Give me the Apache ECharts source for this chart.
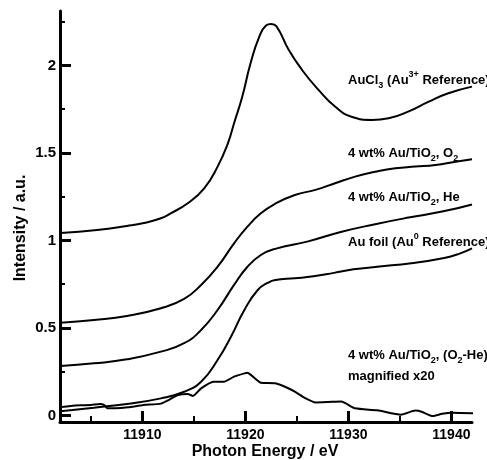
<!DOCTYPE html>
<html><head><meta charset="utf-8">
<script src="https://cdn.jsdelivr.net/npm/echarts@6/dist/echarts.min.js"></script>
<style>html,body{margin:0;padding:0;background:#fff}#c{width:487px;height:460px}</style>
</head><body><div id="c"></div>
<script>
// Tick values
const xMajorTicks = [11910, 11920, 11930, 11940];
const xMinorTicks = [11905, 11915, 11925, 11935];
const yMajorTicks = [0, 0.5, 1, 1.5, 2];
const yMinorTicks = [0.25, 0.75, 1.25, 1.75, 2.25];

// AuCl3 (Au3+ reference)
const aucl3E = [11902.05, 11905.6, 11908.5, 11910.15, 11911.8, 11912.75, 11914.4, 11916.0, 11917.3, 11918.3, 11918.9, 11919.7, 11920.5, 11921.35, 11922.0, 11922.5, 11923.0, 11924.2, 11925.5, 11927.1, 11928.7, 11930.3, 11932.3, 11933.9, 11935.8, 11937.8, 11939.7, 11942.0];
const aucl3I = [1.043, 1.06, 1.083, 1.10, 1.127, 1.155, 1.213, 1.298, 1.422, 1.555, 1.67, 1.822, 2.013, 2.165, 2.228, 2.237, 2.225, 2.089, 1.974, 1.86, 1.765, 1.707, 1.689, 1.698, 1.736, 1.793, 1.841, 1.879];

// 4 wt% Au/TiO2, O2
const o2E = [11902.05, 11905.3, 11908.5, 11911.8, 11914.05, 11915.7, 11917.3, 11918.9, 11920.2, 11921.5, 11922.9, 11924.8, 11926.8, 11928.7, 11930.65, 11932.6, 11934.55, 11936.5, 11938.45, 11940.4, 11942.0];
const o2I = [0.530, 0.546, 0.569, 0.613, 0.666, 0.746, 0.850, 0.984, 1.079, 1.155, 1.21, 1.26, 1.289, 1.327, 1.365, 1.393, 1.413, 1.422, 1.431, 1.45, 1.464];

// 4 wt% Au/TiO2, He
const heE = [11902.05, 11905.3, 11908.5, 11911.8, 11914.05, 11915.7, 11917.3, 11918.9, 11920.2, 11921.5, 11922.9, 11926.1, 11929.35, 11932.6, 11935.85, 11939.1, 11942.0];
const heI = [0.283, 0.298, 0.321, 0.365, 0.413, 0.489, 0.603, 0.746, 0.850, 0.917, 0.952, 0.995, 1.05, 1.093, 1.131, 1.165, 1.206];

// Au foil (Au0 reference)
const foilE = [11902.05, 11905.3, 11908.5, 11911.8, 11914.05, 11915.7, 11917.3, 11918.6, 11919.9, 11921.2, 11922.2, 11922.9, 11924.8, 11926.6, 11928.6, 11930.5, 11932.8, 11936.1, 11939.3, 11940.8, 11942.0];
const foilI = [0.025, 0.045, 0.066, 0.098, 0.136, 0.193, 0.317, 0.45, 0.603, 0.717, 0.759, 0.774, 0.784, 0.795, 0.815, 0.835, 0.85, 0.87, 0.9, 0.925, 0.955];

// 4 wt% Au/TiO2, (O2-He) magnified x20
const diffE = [11902.05, 11903.0, 11904.0, 11905.0, 11905.9, 11906.3, 11906.6, 11907.4, 11908.6, 11910.1, 11911.8, 11912.6, 11913.45, 11914.4, 11914.9, 11915.7, 11916.9, 11917.9, 11918.9, 11919.9, 11920.2, 11920.55, 11921.5, 11922.9, 11924.0, 11924.8, 11925.8, 11926.8, 11928.0, 11929.3, 11930.65, 11932.8, 11935.1, 11936.5, 11937.1, 11938.2, 11939.1, 11940.1, 11942.1];
const diffI = [0.048, 0.054, 0.058, 0.06, 0.066, 0.06, 0.042, 0.042, 0.047, 0.06, 0.068, 0.09, 0.117, 0.123, 0.112, 0.155, 0.193, 0.193, 0.222, 0.241, 0.245, 0.231, 0.187, 0.184, 0.16, 0.136, 0.1, 0.075, 0.077, 0.08, 0.041, 0.03, 0.005, 0.028, 0.022, -0.003, 0.01, 0.016, 0.013];

const FONT = '"Liberation Sans", Arial, Helvetica, sans-serif';
const zip = (a, b) => a.map((v, i) => [v, b[i]]);

const chart = echarts.init(document.getElementById('c'), null, {renderer: 'canvas'});

function lineSeries(E, I, smooth) {
  return {
    type: 'line', data: zip(E, I), showSymbol: false, symbol: 'none',
    smooth: smooth,
    lineStyle: {color: '#000', width: 2}, itemStyle: {color: '#000'},
    emphasis: {disabled: true}, silent: true
  };
}

const rich = {
  sub: {fontSize: 9, fontWeight: 'bold', fontFamily: FONT, verticalAlign: 'bottom', fill: '#000'},
  sup: {fontSize: 9, fontWeight: 'bold', fontFamily: FONT, verticalAlign: 'top', fill: '#000'}
};
function label(text, x, y) {
  return {
    type: 'text', x: x, y: y, silent: true,
    style: {
      text: text, rich: rich, fill: '#000',
      font: 'bold 13px ' + FONT, lineHeight: 20,
      verticalAlign: 'middle', align: 'left'
    }
  };
}

const option = {
  animation: false,
  backgroundColor: '#fff',
  grid: {left: 60, right: 15, top: 11, bottom: 38, containLabel: false},
  xAxis: [{
    type: 'value', min: 11902, max: 11942, position: 'bottom', offset: 0,
    axisLine: {show: true, onZero: false, lineStyle: {color: '#000', width: 3}},
    axisTick: {show: true, inside: true, length: 11, customValues: xMajorTicks, lineStyle: {color: '#000', width: 3}},
    axisLabel: {show: true, customValues: xMajorTicks, formatter: v => String(v), color: '#000', fontWeight: 'bold', fontSize: 14, fontFamily: FONT, margin: 6},
    splitLine: {show: false}
  }, {
    type: 'value', min: 11902, max: 11942, position: 'bottom', offset: 0,
    axisLine: {show: false, onZero: false},
    axisTick: {show: true, inside: true, length: 6, customValues: xMinorTicks, lineStyle: {color: '#000', width: 2}},
    axisLabel: {show: false},
    splitLine: {show: false}
  }],
  yAxis: [{
    type: 'value', min: -0.037, max: 2.311, position: 'left', offset: 0,
    axisLine: {show: true, onZero: false, lineStyle: {color: '#000', width: 3}},
    axisTick: {show: true, inside: true, length: 11, customValues: yMajorTicks, lineStyle: {color: '#000', width: 3}},
    axisLabel: {show: true, customValues: yMajorTicks, formatter: v => String(v), color: '#000', fontWeight: 'bold', fontSize: 15, fontFamily: FONT, margin: 4},
    splitLine: {show: false}
  }, {
    type: 'value', min: -0.037, max: 2.311, position: 'left', offset: 0,
    axisLine: {show: false, onZero: false},
    axisTick: {show: true, inside: true, length: 5, customValues: yMinorTicks, lineStyle: {color: '#000', width: 2}},
    axisLabel: {show: false},
    splitLine: {show: false}
  }],
  series: [
    lineSeries(aucl3E, aucl3I, 0.5),
    lineSeries(o2E, o2I, 0.5),
    lineSeries(heE, heI, 0.5),
    lineSeries(foilE, foilI, 0.5),
    lineSeries(diffE, diffI, 0.2)
  ],
  graphic: [
    label('AuCl{sub|3} (Au{sup|3+} Reference)', 348, 80),
    label('4 wt% Au/TiO{sub|2}, O{sub|2}', 348, 153),
    label('4 wt% Au/TiO{sub|2}, He', 348, 197),
    label('Au foil (Au{sup|0} Reference)', 348, 242),
    label('4 wt% Au/TiO{sub|2}, (O{sub|2}-He)', 348, 355),
    label('magnified x20', 348, 376),
    {type: 'text', x: 265, y: 452, silent: true,
     style: {text: 'Photon Energy / eV', font: 'bold 16px ' + FONT, fill: '#000', align: 'center', verticalAlign: 'middle'}},
    {type: 'text', x: 21, y: 228, rotation: Math.PI / 2, silent: true,
     style: {text: 'Intensity / a.u.', font: 'bold 16px ' + FONT, fill: '#000', align: 'center', verticalAlign: 'middle'}}
  ]
};
chart.setOption(option);
</script>
</body></html>
